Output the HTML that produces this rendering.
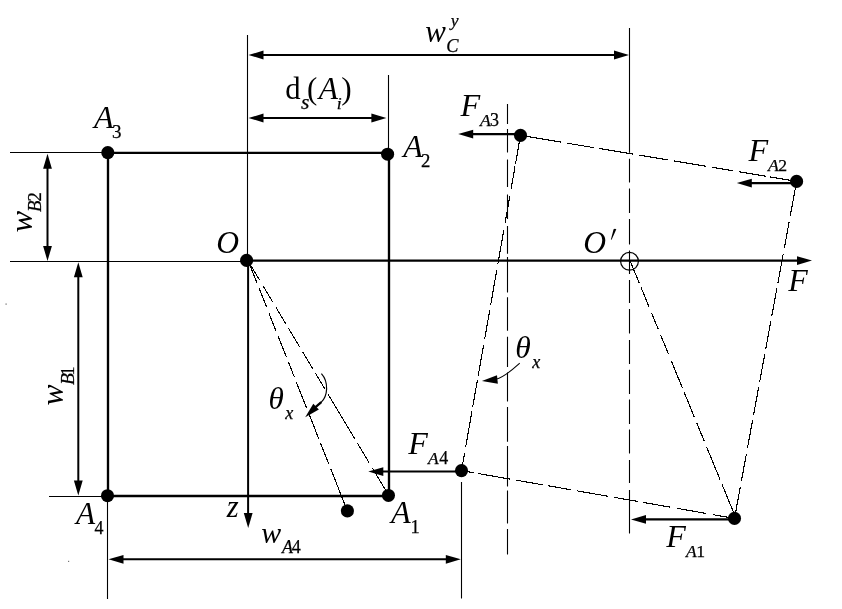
<!DOCTYPE html>
<html><head><meta charset="utf-8"><style>
html,body{margin:0;padding:0;background:#fff;}
svg{display:block;filter:grayscale(1);}
text{font-family:"Liberation Serif",serif;fill:#000;stroke:none;}
text.b{stroke:none;}
text.s{stroke:#000;stroke-width:0.25px;}
</style></head><body>
<svg width="842" height="609" viewBox="0 0 842 609" stroke="#000" fill="#000">
<rect x="0" y="0" width="842" height="609" fill="#fff" stroke="none"/>
<g>
<line x1="10.00" y1="152.50" x2="108.00" y2="152.50" stroke-width="1.10"/>
<line x1="10.00" y1="261.50" x2="246.80" y2="261.50" stroke-width="1.10"/>
<line x1="49.00" y1="496.50" x2="108.00" y2="496.50" stroke-width="1.10"/>
<line x1="247.50" y1="35.00" x2="247.50" y2="260.60" stroke-width="1.10"/>
<line x1="388.50" y1="75.00" x2="388.50" y2="152.90" stroke-width="1.10"/>
<line x1="107.50" y1="496.00" x2="107.50" y2="599.00" stroke-width="1.10"/>
<line x1="461.50" y1="482.00" x2="461.50" y2="598.50" stroke-width="1.10"/>
<line x1="108.00" y1="152.90" x2="389.00" y2="152.90" stroke-width="2.35"/>
<line x1="108.00" y1="152.90" x2="108.00" y2="496.00" stroke-width="2.35"/>
<line x1="389.00" y1="152.90" x2="389.00" y2="496.00" stroke-width="2.35"/>
<line x1="108.00" y1="496.00" x2="389.00" y2="496.00" stroke-width="2.35"/>
<line x1="246.80" y1="260.60" x2="800.00" y2="260.60" stroke-width="2.10"/>
<polygon points="812.00,260.60 797.00,265.00 797.00,256.20" stroke="none"/>
<line x1="248.10" y1="260.60" x2="248.10" y2="515.00" stroke-width="2.00"/>
<polygon points="248.20,528.00 243.80,513.00 252.60,513.00" stroke="none"/>
<polygon points="248.50,55.00 263.50,50.60 263.50,59.40" stroke="none"/>
<line x1="261.50" y1="55.00" x2="616.00" y2="55.00" stroke-width="2.00"/>
<polygon points="629.00,55.00 614.00,59.40 614.00,50.60" stroke="none"/>
<polygon points="248.50,118.00 263.50,113.60 263.50,122.40" stroke="none"/>
<line x1="261.50" y1="118.00" x2="373.40" y2="118.00" stroke-width="2.00"/>
<polygon points="386.40,118.00 371.40,122.40 371.40,113.60" stroke="none"/>
<polygon points="47.50,153.80 51.90,168.80 43.10,168.80" stroke="none"/>
<line x1="47.50" y1="166.80" x2="47.50" y2="248.00" stroke-width="2.00"/>
<polygon points="47.50,261.00 43.10,246.00 51.90,246.00" stroke="none"/>
<polygon points="78.30,262.30 82.70,277.30 73.90,277.30" stroke="none"/>
<line x1="78.30" y1="275.30" x2="78.30" y2="482.60" stroke-width="2.00"/>
<polygon points="78.30,495.60 73.90,480.60 82.70,480.60" stroke="none"/>
<polygon points="108.50,559.30 123.50,554.90 123.50,563.70" stroke="none"/>
<line x1="121.50" y1="559.30" x2="447.80" y2="559.30" stroke-width="2.10"/>
<polygon points="460.80,559.30 445.80,563.70 445.80,554.90" stroke="none"/>
<path d="M629.50,28.00L629.50,152.80M629.50,158.70L629.50,182.40M629.50,188.40L629.50,213.00M629.50,219.00L629.50,244.60M629.50,250.50L629.50,274.00M629.50,280.00L629.50,303.00M629.50,309.00L629.50,333.60M629.50,340.00L629.50,364.00M629.50,369.70L629.50,394.00M629.50,399.50L629.50,424.00M629.50,429.40L629.50,453.50M629.50,460.00L629.50,483.00M629.50,490.00L629.50,533.50" fill="none" stroke-width="1.10"/>
<path d="M507.50,104.00L507.50,124.00M507.50,128.90L507.50,152.40M507.50,159.60L507.50,187.00M507.50,194.50L507.50,219.00M507.50,226.00L507.50,253.70M507.50,257.00L507.50,292.40M507.50,297.30L507.50,330.80M507.50,336.70L507.50,367.00M507.50,372.60L507.50,401.60M507.50,407.00L507.50,441.70M507.50,446.00L507.50,486.40M507.50,490.60L507.50,523.60M507.50,529.00L507.50,554.50" fill="none" stroke-width="1.10"/>
<circle cx="629.5" cy="261.3" r="8.9" fill="none" stroke-width="1.2"/>
<path d="M520.50,135.40L561.00,142.15M567.30,143.20L593.90,147.63M599.00,148.48L633.40,154.21M639.00,155.14L667.50,159.89M674.10,160.99L705.70,166.26M712.40,167.37L733.20,170.84M739.00,171.80L766.40,176.37M769.70,176.92L796.60,181.40" fill="none" stroke-width="1.10" shape-rendering="crispEdges"/>
<path d="M796.60,181.40L790.30,215.60M789.12,222.00L784.33,248.00M783.31,253.50L777.95,282.60M776.96,288.00L771.80,316.00M770.78,321.50L765.72,349.00M764.70,354.50L759.63,382.00M758.62,387.50L753.55,415.00M752.54,420.50L747.47,448.00M746.46,453.50L741.39,481.00M740.38,486.50L734.50,518.40" fill="none" stroke-width="1.10" shape-rendering="crispEdges"/>
<path d="M461.50,470.60L474.10,472.81M478.30,473.54L509.90,479.07M515.70,480.09L543.10,484.89M548.10,485.76L571.40,489.84M577.20,490.86L607.80,496.22M614.00,497.30L638.10,501.52M643.40,502.45L670.20,507.14M677.30,508.38L705.80,513.37M713.00,514.64L734.50,518.40" fill="none" stroke-width="1.10" shape-rendering="crispEdges"/>
<path d="M520.50,135.40L515.54,163.60M515.03,166.50L511.07,189.00M509.83,196.00L505.08,223.00M503.85,230.00L497.90,263.80M496.86,269.70L490.65,305.00M489.68,310.50L484.72,338.70M483.68,344.60L478.19,375.80M477.50,379.70L472.64,407.30M471.96,411.20L465.71,446.70M464.67,452.60L461.50,470.60" fill="none" stroke-width="1.10" shape-rendering="crispEdges"/>
<path d="M630.20,261.00L639.24,283.00M641.13,287.60L649.19,307.20M651.57,313.00L658.15,329.00M660.53,334.80L668.59,354.40M671.43,361.30L682.40,388.00M683.84,391.50L694.24,416.80M696.62,422.60L704.39,441.50M706.49,446.60L719.97,479.40M722.11,484.60L736.00,518.40" fill="none" stroke-width="1.10" shape-rendering="crispEdges"/>
<path d="M248.10,261.00L259.68,280.30M262.86,285.60L272.70,302.00M275.88,307.30L285.72,323.70M288.48,328.30L299.70,347.00M302.70,352.00L312.60,368.50M315.54,373.40L324.66,388.60M328.08,394.30L354.90,439.00M357.30,443.00L368.88,462.30M372.30,468.00L388.80,495.50" fill="none" stroke-width="1.10" shape-rendering="crispEdges"/>
<path d="M248.30,261.00L257.26,283.60M259.09,288.20L266.66,307.30M268.72,312.50L276.02,330.90M278.12,336.20L286.37,357.00M288.31,361.90L294.50,377.50M296.44,382.40L306.48,407.70M308.58,413.00L318.77,438.70M320.59,443.30L328.92,464.30M330.78,469.00L347.40,510.90" fill="none" stroke-width="1.10" shape-rendering="crispEdges"/>
<line x1="520.50" y1="134.10" x2="471.20" y2="134.10" stroke-width="2.10"/>
<polygon points="458.20,134.10 473.20,129.70 473.20,138.50" stroke="none"/>
<line x1="796.60" y1="183.10" x2="749.80" y2="183.10" stroke-width="2.10"/>
<polygon points="736.80,183.10 751.80,178.70 751.80,187.50" stroke="none"/>
<line x1="461.50" y1="471.60" x2="381.30" y2="471.60" stroke-width="2.00"/>
<polygon points="368.30,471.60 383.30,467.20 383.30,476.00" stroke="none"/>
<line x1="734.50" y1="519.40" x2="644.00" y2="519.40" stroke-width="2.10"/>
<polygon points="631.00,519.40 646.00,515.00 646.00,523.80" stroke="none"/>
<circle cx="107.80" cy="152.60" r="6.55" stroke="none"/>
<circle cx="387.60" cy="154.20" r="6.55" stroke="none"/>
<circle cx="107.50" cy="495.70" r="6.55" stroke="none"/>
<circle cx="388.45" cy="495.45" r="6.55" stroke="none"/>
<circle cx="246.60" cy="260.40" r="6.55" stroke="none"/>
<circle cx="347.40" cy="510.90" r="6.55" stroke="none"/>
<circle cx="520.50" cy="135.40" r="6.55" stroke="none"/>
<circle cx="796.60" cy="181.40" r="6.55" stroke="none"/>
<circle cx="734.50" cy="518.40" r="6.55" stroke="none"/>
<circle cx="461.50" cy="470.60" r="6.55" stroke="none"/>
<path d="M321.4,373.6 C324.5,377 326.8,383 326.6,389 C326.4,395 324,399.5 321.3,402.2 L317,406" fill="none" stroke-width="1.2"/>
<line x1="321.30" y1="402.20" x2="315.50" y2="407.20" stroke-width="2.20"/>
<polygon points="305.20,417.20 313.30,403.84 318.85,409.60" stroke="none"/>
<path d="M519.7,363.1 C513,369 505,377 496,379.2" fill="none" stroke-width="1.1"/>
<polygon points="481.90,381.00 496.98,375.13 497.86,383.69" stroke="none"/>
<path d="M613.6,229.2 Q615,228.3 616.3,229.3 L611.6,239.8 L610.9,239.6 Z" stroke="none"/>
<rect x="5.5" y="303.5" width="1.2" height="1.2" fill="#666" stroke="none"/>
<rect x="68" y="560.8" width="1.2" height="1.2" fill="#777" stroke="none"/>
<text class="b" x="425.16" y="41.70" font-size="30.93" style="font-style:italic">w</text>
<text class="s" x="450.87" y="25.89" font-size="17.63" style="font-style:italic">y</text>
<text class="s" x="446.28" y="51.93" font-size="18.32" style="font-style:italic">C</text>
<text class="b" x="285.19" y="99.00" font-size="30.70" style="">d</text>
<text class="s" x="300.94" y="108.59" font-size="21.62" style="font-style:italic">s</text>
<text class="b" x="307.04" y="98.63" font-size="30.88" style="">(</text>
<text class="b" x="318.72" y="98.90" font-size="31.51" style="font-style:italic">A</text>
<text class="s" x="336.82" y="108.80" font-size="17.67" style="font-style:italic">i</text>
<text class="b" x="341.29" y="98.93" font-size="31.32" style="">)</text>
<text class="b" x="93.96" y="127.90" font-size="32.27" style="font-style:italic">A</text>
<text class="s" x="111.99" y="138.11" font-size="19.05" style="">3</text>
<text class="b" x="403.25" y="156.60" font-size="31.96" style="font-style:italic">A</text>
<text class="s" x="421.08" y="166.90" font-size="18.73" style="">2</text>
<text class="b" x="216.21" y="252.69" font-size="31.55" style="font-style:italic">O</text>
<text class="b" x="583.21" y="252.69" font-size="31.55" style="font-style:italic">O</text>
<text class="b" x="788.27" y="291.00" font-size="31.92" style="font-style:italic">F</text>
<text class="b" x="460.47" y="116.00" font-size="32.22" style="font-style:italic">F</text>
<text class="s" x="479.97" y="126.00" font-size="17.72" style="font-style:italic">A</text>
<text class="s" x="489.94" y="125.92" font-size="18.01" style="">3</text>
<text class="b" x="748.47" y="161.00" font-size="32.22" style="font-style:italic">F</text>
<text class="s" x="767.97" y="171.00" font-size="17.72" style="font-style:italic">A</text>
<text class="s" x="778.32" y="171.00" font-size="17.67" style="">2</text>
<text class="b" x="408.27" y="453.80" font-size="32.07" style="font-style:italic">F</text>
<text class="s" x="427.95" y="463.80" font-size="17.42" style="font-style:italic">A</text>
<text class="s" x="439.15" y="463.80" font-size="17.93" style="">4</text>
<text class="b" x="666.37" y="546.90" font-size="32.07" style="font-style:italic">F</text>
<text class="s" x="685.95" y="556.80" font-size="17.42" style="font-style:italic">A</text>
<text class="s" x="696.24" y="556.70" font-size="17.72" style="">1</text>
<text class="b" x="268.38" y="408.60" font-size="31.17" style="font-style:italic">θ</text>
<text class="s" x="285.22" y="418.90" font-size="18.08" style="font-style:italic">x</text>
<text class="b" x="515.36" y="357.69" font-size="31.59" style="font-style:italic">θ</text>
<text class="s" x="532.22" y="368.10" font-size="18.08" style="font-style:italic">x</text>
<text class="b" x="75.91" y="523.60" font-size="31.36" style="font-style:italic">A</text>
<text class="s" x="94.55" y="533.80" font-size="17.93" style="">4</text>
<text class="b" x="391.06" y="522.90" font-size="32.27" style="font-style:italic">A</text>
<text class="s" x="410.48" y="532.80" font-size="18.48" style="">1</text>
<text class="b" x="226.75" y="516.90" font-size="30.72" style="font-style:italic">z</text>
<text class="b" x="261.19" y="542.71" font-size="29.87" style="font-style:italic">w</text>
<text class="s" x="281.99" y="553.10" font-size="18.03" style="font-style:italic">A</text>
<text class="s" x="291.85" y="553.10" font-size="18.08" style="">4</text>
<text class="b" transform="translate(31.78 232.38) rotate(-90)" font-size="32.43" style="font-style:italic">w</text>
<text class="s" transform="translate(41.14 212.07) rotate(-90)" font-size="18.85" style="font-style:italic">B</text>
<text class="s" transform="translate(41.20 201.62) rotate(-90)" font-size="18.73" style="">2</text>
<text class="b" transform="translate(63.39 405.56) rotate(-90)" font-size="31.57" style="font-style:italic">w</text>
<text class="s" transform="translate(73.54 384.88) rotate(-90)" font-size="19.46" style="font-style:italic">B</text>
<text class="s" transform="translate(73.60 375.64) rotate(-90)" font-size="18.63" style="">1</text>
</g>
</svg>
</body></html>
